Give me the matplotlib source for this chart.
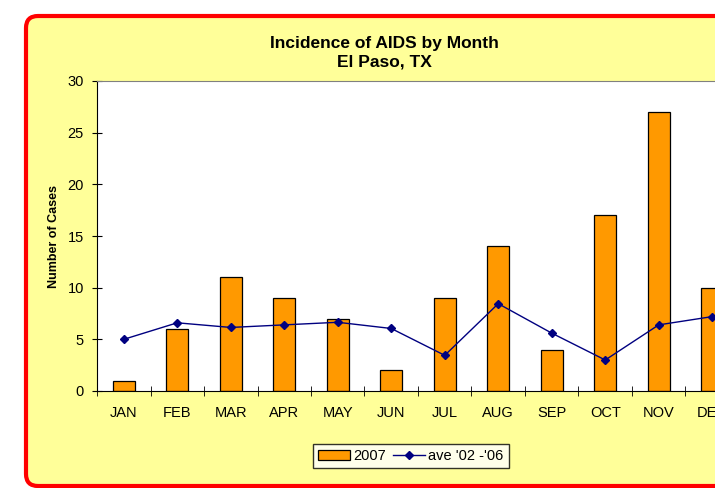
import matplotlib.pyplot as plt
import numpy as np
from matplotlib.patches import FancyBboxPatch
from matplotlib.transforms import IdentityTransform

plt.rcParams['font.family'] = ['Liberation Sans', 'DejaVu Sans']

# donnees
mois = ["JAN", "FEB", "MAR", "APR", "MAY", "JUN", "JUL", "AUG", "SEP", "OCT", "NOV", "DEC"]
cas_2007 = [1, 6, 11, 9, 7, 2, 9, 14, 4, 17, 27, 10]
moyenne_02_06 = [5.0, 6.6, 6.15, 6.4, 6.65, 6.05, 3.45, 8.45, 5.6, 3.0, 6.4, 7.2]

W, H = 715, 488
fig = plt.figure(figsize=(W / 100, H / 100), dpi=100)
fig.patch.set_facecolor("white")

# cadre jaune a bord rouge arrondi (coupe a droite), en pixels
cadre = FancyBboxPatch((26, 2), 740, 470,
                       boxstyle="round,pad=0,rounding_size=12",
                       transform=IdentityTransform(), facecolor="#FFFF99",
                       edgecolor="#FF0000", linewidth=3, zorder=-1)
fig.patches.append(cadre)

ax = fig.add_axes([97 / W, 1 - 391 / H, 642 / W, 310 / H])
ax.set_facecolor("white")

x = np.arange(len(mois))
barres = ax.bar(x, cas_2007, width=0.41, color="#FF9900", edgecolor="black",
                linewidth=0.9, label="2007", zorder=2)
ligne, = ax.plot(x, moyenne_02_06, color="#000080", marker="D", markersize=4.5,
                 linewidth=1.0, label="ave '02 -'06", zorder=3)

ax.set_xlim(-0.5, 11.5)
ax.set_ylim(0, 30)
ax.set_yticks(range(0, 31, 5))
ax.set_xticks(x)
ax.set_xticklabels(mois, fontsize=10.5)
ax.set_xticks(np.arange(-0.5, 12, 1), minor=True)
ax.tick_params(axis="x", which="major", length=0, pad=11)
ax.tick_params(axis="x", which="minor", length=7, direction="inout")
ax.tick_params(axis="y", length=7, direction="inout", labelsize=10.5, pad=6)

for cote in ["top", "right"]:
    ax.spines[cote].set_color("#808080")
ax.spines["left"].set_color("black")
ax.spines["bottom"].set_color("black")

ax.set_ylabel("Number of Cases", fontsize=9, fontweight="bold", labelpad=5)
fig.text(384 / W, 1 - 53 / H, "Incidence of AIDS by Month\nEl Paso, TX", ha="center",
         va="center", fontsize=12.5, fontweight="bold", linespacing=1.3)

leg = fig.legend([barres, ligne], ["2007", "ave '02 -'06"], loc="center",
                 bbox_to_anchor=(411 / W, 1 - 456 / H), ncol=2,
                 fontsize=10.5, frameon=True, fancybox=False, edgecolor="black",
                 handlelength=2.2, handletextpad=0.2, columnspacing=0.5,
                 borderpad=0.35, borderaxespad=0)
leg.get_frame().set_linewidth(1)

plt.savefig("out.png", dpi=100)
